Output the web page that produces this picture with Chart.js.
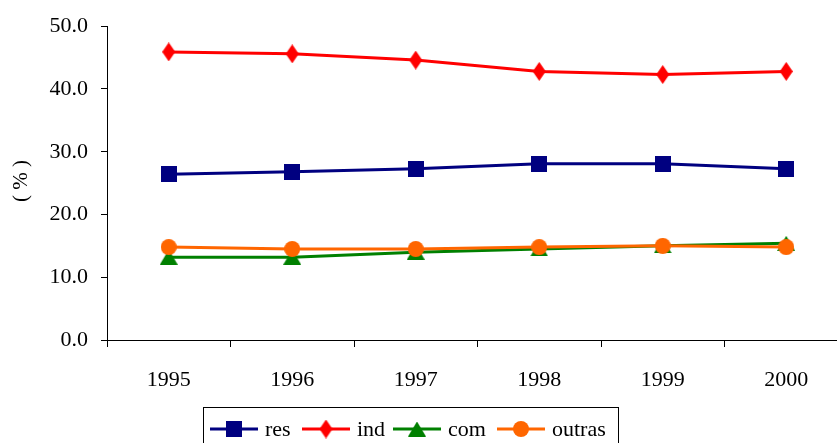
<!DOCTYPE html>
<html>
<head>
<meta charset="utf-8">
<script src="https://cdn.jsdelivr.net/npm/chart.js@4/dist/chart.umd.min.js"></script>
<style>
  html, body { margin: 0; padding: 0; background: #fff; overflow: hidden; }
  #chart { display: block; }
  #warm { font-family: "Liberation Serif"; position: absolute; left: -999px; top: 0; }
</style>
</head>
<body>
<span id="warm">1995 res ind com outras</span>
<canvas id="chart" width="860" height="460"></canvas>
<script>
'use strict';

// data
const years = ['1995', '1996', '1997', '1998', '1999', '2000'];
const res = [26.4, 26.8, 27.3, 28.1, 28.1, 27.3];
const ind = [45.9, 45.6, 44.6, 42.8, 42.3, 42.8];
const com = [13.2, 13.2, 14.0, 14.5, 15.0, 15.4];
const outras = [14.8, 14.5, 14.5, 14.8, 15.0, 14.8];
const yTitle = '( % )';

const FONT = '"Liberation Serif", "Times New Roman", serif';

// marker shapes drawn on tiny canvases
function marker(w, h, draw) {
  const c = document.createElement('canvas');
  c.width = w; c.height = h;
  const g = c.getContext('2d');
  draw(g, w, h);
  return c;
}
const sq = marker(16, 16, (g, w, h) => { g.fillStyle = '#000080'; g.fillRect(0, 0, w, h); });
const dia = marker(13, 19, (g, w, h) => {
  g.fillStyle = '#ff0000';
  g.beginPath(); g.moveTo(w / 2, 0); g.lineTo(w, h / 2); g.lineTo(w / 2, h); g.lineTo(0, h / 2); g.closePath(); g.fill();
});
const tri = marker(18, 15, (g, w, h) => {
  g.fillStyle = '#008000';
  g.beginPath(); g.moveTo(w / 2, 0); g.lineTo(w, h); g.lineTo(0, h); g.closePath(); g.fill();
});
const circ = marker(16, 16, (g, w, h) => {
  g.fillStyle = '#ff6600';
  g.beginPath(); g.arc(w / 2, h / 2, w / 2, 0, Math.PI * 2); g.fill();
});

function ds(label, data, color, img, order) {
  return {
    label, data, order,
    borderColor: color,
    backgroundColor: color,
    borderWidth: 3,
    pointStyle: img,
    pointRadius: 8,
    pointHoverRadius: 8,
    tension: 0,
  };
}

// legend with line + marker inside a framed box
const boxLegend = {
  id: 'boxLegend',
  afterDraw(chart) {
    const ctx = chart.ctx;
    const left = 203, top = 407, right = 618, bottom = 452;
    ctx.save();
    ctx.strokeStyle = '#000';
    ctx.lineWidth = 1;
    ctx.strokeRect(left + 0.5, top + 0.5, right - left, bottom - top);
    const starts = [210, 302, 393, 497];
    const cy = 429;
    ctx.font = '22px ' + FONT;
    ctx.textBaseline = 'middle';
    ctx.fillStyle = '#000';
    chart.data.datasets.forEach((d, i) => {
      const x0 = starts[i];
      ctx.strokeStyle = d.borderColor;
      ctx.lineWidth = 3;
      ctx.beginPath(); ctx.moveTo(x0, cy); ctx.lineTo(x0 + 48, cy); ctx.stroke();
      const img = d.pointStyle;
      ctx.drawImage(img, x0 + 24 - img.width / 2, cy - img.height / 2);
      ctx.fillText(d.label, x0 + 55, cy + 1);
    });
    ctx.restore();
  }
};

const yTitlePlugin = {
  id: 'yTitleText',
  afterDraw(chart) {
    const ctx = chart.ctx;
    ctx.save();
    ctx.translate(21, 181);
    ctx.rotate(-Math.PI / 2);
    ctx.font = '21px ' + FONT;
    ctx.fillStyle = '#000';
    ctx.textAlign = 'center';
    ctx.textBaseline = 'middle';
    ctx.fillText(yTitle, 0, 0);
    ctx.restore();
  }
};

function draw() {
  new Chart(document.getElementById('chart'), {
    type: 'line',
    data: {
      labels: years,
      datasets: [
        ds('res', res, '#000080', sq, 3),
        ds('ind', ind, '#ff0000', dia, 2),
        ds('com', com, '#008000', tri, 1),
        ds('outras', outras, '#ff6600', circ, 0),
      ],
    },
    options: {
      responsive: false,
      animation: false,
      devicePixelRatio: 1,
      layout: { padding: { left: 0, top: 24, right: 12, bottom: 0 } },
      plugins: { legend: { display: false }, tooltip: { enabled: false } },
      scales: {
        x: {
          offset: true,
          grid: { offset: true, drawOnChartArea: false, drawTicks: true, tickLength: 7, color: '#000' },
          border: { color: '#000', width: 1 },
          ticks: { color: '#000', font: { family: FONT, size: 22 }, padding: 20, maxRotation: 0 },
          afterFit(s) { s.height = 120; },
        },
        y: {
          min: 0, max: 50,
          grid: { drawOnChartArea: false, drawTicks: true, tickLength: 6, color: '#000' },
          border: { color: '#000', width: 1 },
          ticks: {
            stepSize: 10, color: '#000', padding: 13,
            font: { family: FONT, size: 22 },
            callback: (v) => v.toFixed(1),
          },
          afterFit(s) { s.width = 107; },
        },
      },
    },
    plugins: [boxLegend, yTitlePlugin],
  });
}

if (document.fonts && document.fonts.load) {
  document.fonts.load('22px "Liberation Serif"').then(draw, draw);
} else {
  draw();
}
</script>
</body>
</html>
